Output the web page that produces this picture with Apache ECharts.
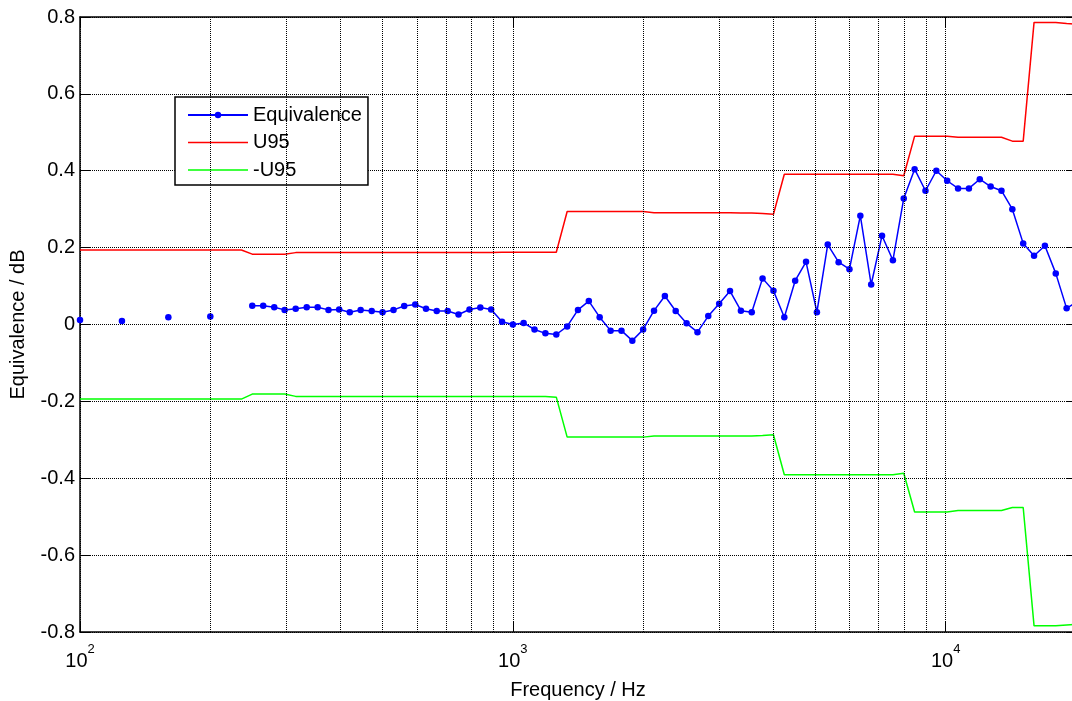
<!DOCTYPE html>
<html>
<head>
<meta charset="utf-8">
<script src="https://cdn.jsdelivr.net/npm/echarts@6/dist/echarts.min.js"></script>
<style>
  html, body { margin: 0; padding: 0; background: #fff; overflow: hidden; }
  /* the plot box runs slightly past the right edge of the window */
  #chart { width: 1080px; height: 701px; }
</style>
</head>
<body>
<div id="chart"></div>
<script>
// 1/12-octave analysis frequencies (Hz)
const freqs = [
  250, 265, 281, 297, 315, 334, 354, 375, 397, 420, 445, 472,
  500, 530, 561, 595, 630, 667, 707, 749, 794, 841, 891, 944,
  1000, 1059, 1122, 1189, 1260, 1335, 1414, 1498, 1587, 1682, 1782, 1888,
  2000, 2119, 2245, 2378, 2520, 2670, 2828, 2997, 3175, 3364, 3564, 3775,
  4000, 4238, 4490, 4757, 5040, 5339, 5657, 5993, 6350, 6727, 7127, 7551,
  8000, 8476, 8980, 9514, 10079, 10679, 11314, 11987, 12699, 13454, 14254, 15102,
  16000, 16951, 17959, 19027, 20159
];

// Equivalence (dB) at each frequency above
const equiv = [
  0.049, 0.049, 0.045, 0.038, 0.041, 0.045, 0.045, 0.038, 0.039, 0.032, 0.038, 0.035,
  0.032, 0.038, 0.048, 0.052, 0.041, 0.035, 0.035, 0.026, 0.039, 0.044, 0.039, 0.007,
  0.000, 0.004, -0.013, -0.023, -0.026, -0.005, 0.038, 0.061, 0.019, -0.016, -0.016, -0.042,
  -0.013, 0.036, 0.074, 0.035, 0.003, -0.020, 0.022, 0.054, 0.087, 0.036, 0.032, 0.120,
  0.088, 0.019, 0.114, 0.163, 0.032, 0.208, 0.162, 0.144, 0.283, 0.104, 0.231, 0.167,
  0.328, 0.404, 0.348, 0.400, 0.374, 0.354, 0.354, 0.378, 0.359, 0.348, 0.300, 0.211,
  0.179, 0.205, 0.133, 0.042, 0.060
];

// Isolated low-frequency equivalence points
const lowFreqs = [100, 125, 160, 200];
const lowEquiv = [0.012, 0.009, 0.019, 0.021];

// Expanded uncertainty U95 (dB)
const u95 = [
  0.183, 0.183, 0.183, 0.183, 0.187, 0.187, 0.187, 0.187, 0.187, 0.187, 0.187, 0.187,
  0.187, 0.187, 0.187, 0.187, 0.187, 0.187, 0.187, 0.187, 0.187, 0.187, 0.187, 0.188,
  0.188, 0.188, 0.188, 0.188, 0.188, 0.294, 0.294, 0.294, 0.294, 0.294, 0.294, 0.294,
  0.294, 0.291, 0.291, 0.291, 0.291, 0.291, 0.291, 0.291, 0.291, 0.290, 0.290, 0.289,
  0.287, 0.391, 0.391, 0.391, 0.391, 0.391, 0.391, 0.391, 0.391, 0.391, 0.391, 0.391,
  0.387, 0.490, 0.490, 0.490, 0.490, 0.487, 0.487, 0.487, 0.487, 0.487, 0.477, 0.477,
  0.786, 0.786, 0.786, 0.783, 0.781
];

const u95Neg = [
  -0.181, -0.181, -0.181, -0.181, -0.187, -0.187, -0.187, -0.187, -0.187, -0.187, -0.187, -0.187,
  -0.187, -0.187, -0.187, -0.187, -0.187, -0.187, -0.187, -0.187, -0.187, -0.187, -0.187, -0.187,
  -0.187, -0.187, -0.187, -0.187, -0.189, -0.293, -0.293, -0.293, -0.293, -0.293, -0.293, -0.293,
  -0.293, -0.290, -0.290, -0.290, -0.290, -0.290, -0.290, -0.290, -0.290, -0.290, -0.290, -0.289,
  -0.287, -0.391, -0.391, -0.391, -0.391, -0.391, -0.391, -0.391, -0.391, -0.391, -0.391, -0.391,
  -0.387, -0.488, -0.488, -0.488, -0.488, -0.484, -0.484, -0.484, -0.484, -0.484, -0.476, -0.476,
  -0.784, -0.784, -0.784, -0.782, -0.780
];

// Uncertainty below 250 Hz
const lowBoundFreqs = [100, 236];
const u95Low = [0.194, 0.194];
const u95NegLow = [-0.194, -0.194];

// Minor decade grid positions
const minorGrid = [200, 300, 400, 500, 600, 700, 800, 900,
                   2000, 3000, 4000, 5000, 6000, 7000, 8000, 9000];

const FONT = 'Liberation Sans, Arial, Helvetica, sans-serif';
const FS = 20;
const pairs = (xs, ys) => xs.map((x, i) => [x, ys[i]]);
const gridLine = { color: '#000', width: 1, type: [1, 1] };
const plainLineIcon = 'path://M0,0 L60,0 L60,1.5 L0,1.5 Z';

const xLabelFmt = v => {
  const e = Math.round(Math.log10(v));
  if (Math.abs(Math.pow(10, e) - v) > 1e-6 * v) return '';
  return '{b|10}{s|' + e + '}';
};

const chart = echarts.init(document.getElementById('chart'), null, { renderer: 'canvas' });
chart.setOption({
  animation: false,
  backgroundColor: '#fff',
  textStyle: { fontFamily: FONT },
  grid: {
    left: 80, top: 17, width: 996, height: 615,
    containLabel: false,
    outerBoundsMode: 'none'
  },
  legend: {
    data: [
      { name: 'Equivalence' },
      { name: 'U95', icon: plainLineIcon },
      { name: '-U95', icon: plainLineIcon }
    ],
    orient: 'vertical',
    left: 175,
    top: 97,
    padding: [8, 6, 5, 12],
    itemWidth: 60,
    itemHeight: 8,
    itemGap: 7.5,
    backgroundColor: '#fff',
    borderColor: '#000',
    borderWidth: 1.5,
    borderRadius: 0,
    textStyle: { fontFamily: FONT, fontSize: FS, color: '#000', lineHeight: 20 }
  },
  xAxis: [{
    type: 'log',
    logBase: 10,
    min: 100,
    max: 20000,
    name: 'Frequency / Hz',
    nameLocation: 'middle',
    nameGap: 48,
    nameTextStyle: { fontFamily: FONT, fontSize: FS, color: '#000' },
    axisLine: { show: true, onZero: false, lineStyle: { color: '#000', width: 1.5 } },
    axisTick: { show: true, inside: true, length: 10, lineStyle: { color: '#000' } },
    axisLabel: {
      show: true,
      margin: 11,
      showMaxLabel: false,
      formatter: xLabelFmt,
      rich: {
        b: { fontFamily: FONT, fontSize: FS, color: '#000', verticalAlign: 'bottom' },
        s: { fontFamily: FONT, fontSize: 13, color: '#000', verticalAlign: 'bottom', padding: [0, 0, 15, 0] }
      }
    },
    splitLine: { show: true, lineStyle: gridLine }
  }, {
    type: 'log',
    logBase: 10,
    min: 100,
    max: 20000,
    position: 'top',
    axisLine: { show: true, onZero: false, lineStyle: { color: '#000', width: 1.5 } },
    axisTick: { show: true, inside: true, length: 10, lineStyle: { color: '#000' } },
    axisLabel: { show: false },
    splitLine: { show: false }
  }],
  yAxis: [{
    type: 'value',
    min: -0.8,
    max: 0.8,
    interval: 0.2,
    name: 'Equivalence / dB',
    nameLocation: 'middle',
    nameGap: 52,
    nameTextStyle: { fontFamily: FONT, fontSize: FS, color: '#000' },
    axisLine: { show: true, onZero: false, lineStyle: { color: '#000', width: 1.5 } },
    axisTick: { show: true, inside: true, length: 10, lineStyle: { color: '#000' } },
    axisLabel: {
      margin: 5,
      fontFamily: FONT, fontSize: FS, color: '#000',
      formatter: v => String(Math.round(v * 10) / 10)
    },
    splitLine: { show: true, lineStyle: gridLine }
  }, {
    type: 'value',
    min: -0.8,
    max: 0.8,
    interval: 0.2,
    position: 'right',
    axisLine: { show: true, onZero: false, lineStyle: { color: '#000', width: 1.5 } },
    axisTick: { show: true, inside: true, length: 10, lineStyle: { color: '#000' } },
    axisLabel: { show: false },
    splitLine: { show: false }
  }],
  series: [
    {
      // minor decade grid lines
      type: 'line',
      data: [],
      z: 1,
      silent: true,
      markLine: {
        silent: true,
        symbol: ['none', 'none'],
        label: { show: false },
        lineStyle: gridLine,
        data: minorGrid.map(f => ({ xAxis: f }))
      }
    },
    {
      name: 'Equivalence',
      type: 'line',
      z: 4,
      data: pairs(freqs, equiv),
      symbol: 'circle',
      symbolSize: 6.5,
      showSymbol: true,
      lineStyle: { color: '#0000ff', width: 1.5 },
      itemStyle: { color: '#0000ff' }
    },
    {
      name: 'Equivalence',
      type: 'scatter',
      z: 4,
      data: pairs(lowFreqs, lowEquiv),
      symbol: 'circle',
      symbolSize: 6.5,
      itemStyle: { color: '#0000ff', opacity: 1 }
    },
    {
      name: 'U95',
      type: 'line',
      z: 3,
      data: pairs(lowBoundFreqs, u95Low).concat(pairs(freqs, u95)),
      symbol: 'none',
      lineStyle: { color: '#ff0000', width: 1.5 },
      itemStyle: { color: '#ff0000' }
    },
    {
      name: '-U95',
      type: 'line',
      z: 3,
      data: pairs(lowBoundFreqs, u95NegLow).concat(pairs(freqs, u95Neg)),
      symbol: 'none',
      lineStyle: { color: '#00ff00', width: 1.5 },
      itemStyle: { color: '#00ff00' }
    }
  ]
});
</script>
</body>
</html>
